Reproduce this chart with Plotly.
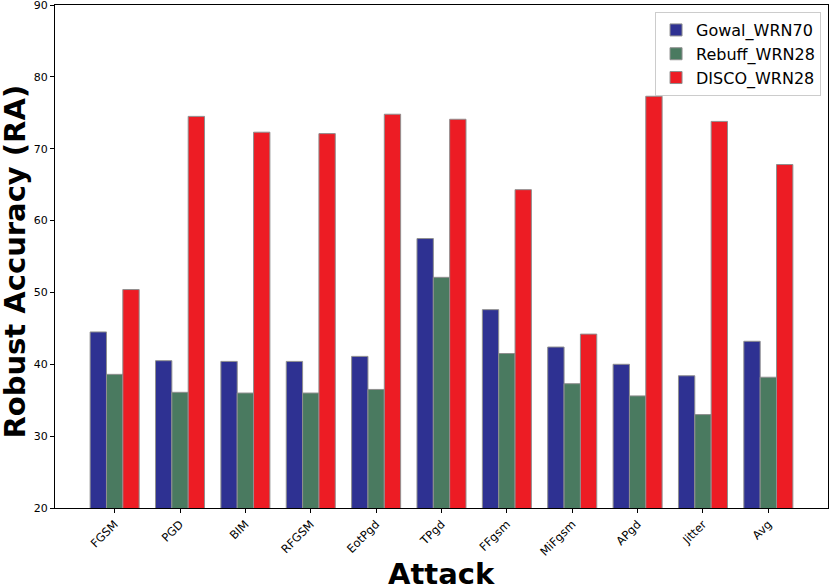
import plotly.graph_objects as go

attacks = ["FGSM", "PGD", "BIM", "RFGSM", "EotPgd", "TPgd", "FFgsm", "MiFgsm", "APgd", "Jitter", "Avg"]
gowal_wrn70 = [44.5, 40.5, 40.4, 40.4, 41.1, 57.5, 47.6, 42.4, 40.0, 38.4, 43.2]
rebuff_wrn28 = [38.6, 36.1, 36.0, 36.0, 36.5, 52.1, 41.5, 37.3, 35.6, 33.0, 38.2]
disco_wrn28 = [50.4, 74.5, 72.3, 72.1, 74.8, 74.1, 64.3, 44.2, 77.3, 73.8, 67.8]
y_ticks = [20, 30, 40, 50, 60, 70, 80, 90]

series = [
    ("Gowal_WRN70", gowal_wrn70, "#2E3192"),
    ("Rebuff_WRN28", rebuff_wrn28, "#4A7A60"),
    ("DISCO_WRN28", disco_wrn28, "#ED1C24"),
]

fig = go.Figure()
for name, vals, color in series:
    fig.add_trace(go.Bar(
        x=attacks, y=vals, name=name,
        marker=dict(color=color, line=dict(color="#8f8f8f", width=1)),
    ))

L, R, T, B = 55, 2, 5, 80
fig.update_layout(
    width=830, height=588,
    margin=dict(l=L, r=R, t=T, b=B, autoexpand=False),
    paper_bgcolor="white", plot_bgcolor="white",
    barmode="group", bargap=0.25, bargroupgap=0,
    font=dict(family="DejaVu Sans", color="black", size=11),
    showlegend=True,
    legend=dict(
        x=0.991, y=0.986, xanchor="right", yanchor="top",
        bgcolor="rgba(255,255,255,0.8)", bordercolor="#cccccc", borderwidth=1,
        font=dict(size=16, family="DejaVu Sans"),
        itemwidth=30, tracegroupgap=4,
    ),
    xaxis=dict(
        range=[-0.9125, 10.9125], automargin=False,
        showline=True, linecolor="black", linewidth=1, mirror=True,
        ticks="outside", ticklen=4, tickcolor="black",
        tickangle=-45, tickfont=dict(size=11.5),
        showgrid=False, zeroline=False,
    ),
    yaxis=dict(
        range=[20, 90], tickvals=y_ticks, automargin=False,
        ticklabeloverflow="allow",
        showline=True, linecolor="black", linewidth=1, mirror=True,
        ticks="outside", ticklen=4, tickcolor="black",
        tickfont=dict(size=11),
        showgrid=False, zeroline=False,
    ),
    annotations=[
        dict(text="<b>Robust Accuracy (RA)</b>", xref="paper", yref="paper",
             x=-0.053, y=0.49, xanchor="center", yanchor="middle",
             textangle=-90, showarrow=False, font=dict(size=29, family="DejaVu Sans")),
        dict(text="<b>Attack</b>", xref="paper", yref="paper",
             x=0.5, y=-0.131, xanchor="center", yanchor="middle",
             showarrow=False, font=dict(size=29, family="DejaVu Sans")),
    ],
)

fig.write_html("out.html", config={"displayModeBar": False},
               post_script="document.body.style.margin='0';")
